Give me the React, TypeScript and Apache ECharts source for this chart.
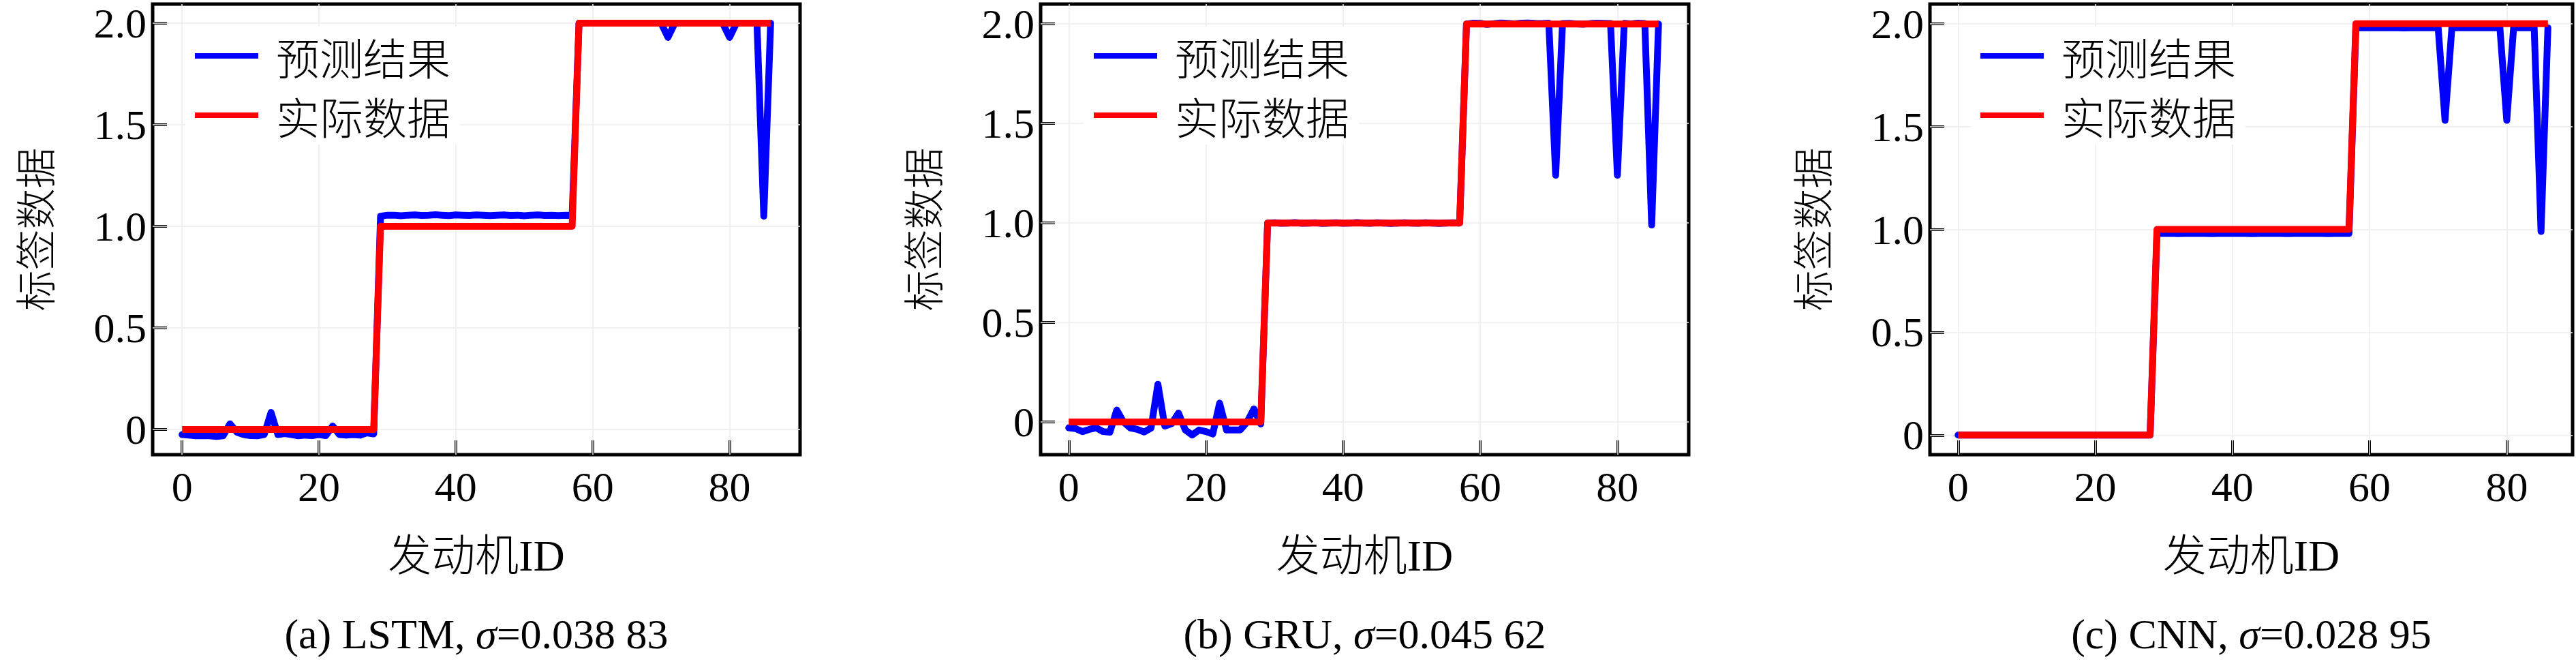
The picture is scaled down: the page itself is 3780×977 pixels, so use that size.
import { useEffect, useRef } from 'react';
import * as echarts from 'echarts';

// engine IDs 0..86
const engineIds = Array.from({ length: 87 }, (_, i) => i);

const actualData = [
  0, 0, 0, 0, 0, 0, 0, 0, 0, 0,
  0, 0, 0, 0, 0, 0, 0, 0, 0, 0,
  0, 0, 0, 0, 0, 0, 0, 0, 0, 1,
  1, 1, 1, 1, 1, 1, 1, 1, 1, 1,
  1, 1, 1, 1, 1, 1, 1, 1, 1, 1,
  1, 1, 1, 1, 1, 1, 1, 1, 2, 2,
  2, 2, 2, 2, 2, 2, 2, 2, 2, 2,
  2, 2, 2, 2, 2, 2, 2, 2, 2, 2,
  2, 2, 2, 2, 2, 2, 2,
];

const lstmPred = [
  -0.025, -0.028, -0.031, -0.03, -0.031, -0.034, -0.031, 0.028, -0.013, -0.025,
  -0.03, -0.031, -0.025, 0.084, -0.025, -0.02, -0.025, -0.031, -0.028, -0.03,
  -0.025, -0.03, 0.017, -0.025, -0.028, -0.025, -0.028, -0.017, -0.022, 1.05,
  1.055, 1.055, 1.052, 1.055, 1.056, 1.054, 1.055, 1.057, 1.055, 1.053,
  1.056, 1.055, 1.054, 1.056, 1.055, 1.053, 1.055, 1.056, 1.054, 1.055,
  1.052, 1.055, 1.056, 1.054, 1.055, 1.053, 1.055, 1.054, 2.0, 2.0,
  2.0, 2.0, 2.0, 2.0, 2.0, 2.0, 2.0, 2.0, 2.0, 2.0,
  2.0, 1.93, 2.0, 2.0, 2.0, 2.0, 2.0, 2.0, 2.0, 2.0,
  1.93, 2.0, 2.0, 2.0, 2.0, 1.05, 2.0,
];

const gruPred = [
  -0.029, -0.033, -0.048, -0.037, -0.029, -0.048, -0.051, 0.06, 0.0, -0.03,
  -0.037, -0.05, -0.03, 0.19, -0.02, -0.008, 0.045, -0.04, -0.065, -0.04,
  -0.048, -0.06, 0.095, -0.04, -0.04, -0.04, 0.0, 0.066, -0.01, 1.0,
  1.001, 0.999, 1.0, 1.002, 0.999, 1.0, 1.001, 0.998, 1.0, 1.001,
  0.999, 1.0, 1.002, 1.0, 0.999, 1.001, 1.0, 0.998, 1.0, 1.001,
  1.0, 0.999, 1.001, 1.0, 0.998, 1.0, 1.001, 1.0, 2.0, 2.004,
  2.003, 1.998, 2.002, 2.005, 2.003, 2.001, 2.004, 2.005, 2.003, 2.002,
  2.004, 1.24, 2.002, 2.003, 2.001, 1.999, 2.002, 2.004, 2.003, 2.002,
  1.24, 2.003, 2.001, 2.004, 2.002, 0.99, 2.0,
];

const cnnPred = [
  0, 0, 0, 0, 0, 0, 0, 0, 0, 0,
  0, 0, 0, 0, 0, 0, 0, 0, 0, 0,
  0, 0, 0, 0, 0, 0, 0, 0, 0, 0.98,
  0.98, 0.981, 0.979, 0.98, 0.98, 0.981, 0.98, 0.979, 0.98, 0.98,
  0.981, 0.98, 0.98, 0.979, 0.98, 0.981, 0.98, 0.98, 0.979, 0.98,
  0.98, 0.981, 0.98, 0.98, 0.979, 0.98, 0.98, 0.98, 1.98, 1.98,
  1.98, 1.98, 1.981, 1.98, 1.98, 1.979, 1.98, 1.98, 1.98, 1.98,
  1.98, 1.53, 1.98, 1.98, 1.98, 1.981, 1.98, 1.98, 1.98, 1.98,
  1.53, 1.98, 1.98, 1.98, 1.98, 0.99, 1.98,
];

const predictions = [lstmPred, gruPred, cnnPred];
const seriesNames = ['预测结果', '实际数据'];
const xTicks = [0, 20, 40, 60, 80];
const yTicks = [0, 0.5, 1, 1.5, 2];
const captions = [
  '(a) LSTM, {i|σ}=0.038 83',
  '(b) GRU, {i|σ}=0.045 62',
  '(c) CNN, {i|σ}=0.028 95',
];

// layout of the three panels (pixels)
const panelLayout = [
  { left: 224, width: 950, xMin: -4.3, xMax: 90.3, yMin: -0.124, yMax: 2.094, legendLeft: 272 },
  { left: 1527, width: 951, xMin: -4.1, xMax: 90.4, yMin: -0.164, yMax: 2.1, legendLeft: 1591 },
  { left: 2832, width: 943, xMin: -4.1, xMax: 89.6, yMin: -0.095, yMax: 2.095, legendLeft: 2892 },
];

const SERIF = "'Liberation Serif', 'Noto Sans CJK SC', serif";
const CJK = "'Noto Sans CJK SC', sans-serif";

export default function App() {
  const chartRef = useRef<HTMLDivElement>(null);

  useEffect(() => {
    if (!chartRef.current) return;
    document.body.style.margin = '0';
    document.body.style.overflow = 'hidden';

    const chart = echarts.init(chartRef.current, null, { renderer: 'svg' });

    const option: any = {
      animation: false,
      backgroundColor: '#fff',
      grid: panelLayout.map((p) => ({
        left: p.left,
        top: 6,
        width: p.width,
        height: 661,
        show: true,
        borderColor: '#000',
        borderWidth: 5,
        backgroundColor: 'transparent',
        containLabel: false,
        outerBoundsMode: 'none',
      })),
      xAxis: panelLayout.map((p, i) => ({
        type: 'value',
        gridIndex: i,
        min: p.xMin,
        max: p.xMax,
        axisLine: { show: false, onZero: false },
        axisTick: {
          show: true,
          inside: true,
          length: 21,
          customValues: xTicks,
          lineStyle: { color: '#000', width: 4 },
        },
        axisLabel: {
          customValues: xTicks,
          margin: 16,
          color: '#000',
          fontFamily: SERIF,
          fontSize: 62,
        },
        splitLine: { show: false },
        name: '发动机ID',
        nameLocation: 'middle',
        nameGap: 148,
        nameTextStyle: {
          color: '#000',
          fontFamily: SERIF,
          fontSize: 64,
          fontWeight: 300,
          verticalAlign: 'middle',
        },
      })),
      yAxis: panelLayout.map((p, i) => ({
        type: 'value',
        gridIndex: i,
        min: p.yMin,
        max: p.yMax,
        axisLine: { show: false, onZero: false },
        axisTick: {
          show: true,
          inside: true,
          length: 21,
          customValues: yTicks,
          lineStyle: { color: '#000', width: 4 },
        },
        axisLabel: {
          customValues: yTicks,
          margin: 9,
          color: '#000',
          fontFamily: SERIF,
          fontSize: 62,
          formatter: (v: number) => (v === 0 ? '0' : v.toFixed(1)),
        },
        splitLine: { show: false },
        name: '标签数据',
        nameLocation: 'middle',
        nameRotate: 90,
        nameGap: 176,
        nameTextStyle: {
          color: '#000',
          fontFamily: CJK,
          fontSize: 60,
          fontWeight: 300,
          verticalAlign: 'middle',
        },
      })),
      legend: panelLayout.map((p) => ({
        left: p.legendLeft,
        top: 39,
        orient: 'vertical',
        data: seriesNames,
        icon: 'rect',
        itemWidth: 93,
        itemHeight: 8,
        itemGap: 17,
        padding: [8, 14, 8, 14],
        backgroundColor: '#fff',
        selectedMode: false,
        textStyle: {
          color: '#000',
          fontFamily: CJK,
          fontSize: 64,
          fontWeight: 300,
          lineHeight: 70,
          padding: [0, 0, 0, 21],
        },
      })),
      series: panelLayout.flatMap((p, i) => [
        {
          type: 'line',
          name: seriesNames[0],
          xAxisIndex: i,
          yAxisIndex: i,
          data: engineIds.map((id, k) => [id, predictions[i][k]]),
          showSymbol: false,
          symbol: 'none',
          silent: true,
          z: 3,
          itemStyle: { color: '#0000ff' },
          lineStyle: { color: '#0000ff', width: 10, join: 'round', cap: 'round' },
          markLine: {
            z: 1,
            silent: true,
            symbol: ['none', 'none'],
            label: { show: false },
            emphasis: { disabled: true },
            lineStyle: { type: 'solid', color: '#ececec', width: 1.5 },
            data: [
              ...xTicks.map((v) => ({ xAxis: v })),
              ...yTicks.map((v) => ({ yAxis: v })),
            ],
          },
        },
        {
          type: 'line',
          name: seriesNames[1],
          xAxisIndex: i,
          yAxisIndex: i,
          data: engineIds.map((id, k) => [id, actualData[k]]),
          showSymbol: false,
          symbol: 'none',
          silent: true,
          z: 4,
          itemStyle: { color: '#ff0000' },
          lineStyle: { color: '#ff0000', width: 10, join: 'round', cap: 'butt' },
        },
      ]),
      graphic: panelLayout.map((p, i) => ({
        type: 'text',
        x: p.left + p.width / 2,
        y: 930,
        style: {
          text: captions[i],
          align: 'center',
          verticalAlign: 'middle',
          fill: '#000',
          fontFamily: SERIF,
          fontSize: 62,
          rich: {
            i: { fontStyle: 'italic', fontFamily: SERIF, fontSize: 62, fill: '#000' },
          },
        },
      })),
    };

    chart.setOption(option);

    return () => {
      chart.dispose();
    };
  }, []);

  return <div ref={chartRef} style={{ width: '3780px', height: '977px' }}></div>;
}
